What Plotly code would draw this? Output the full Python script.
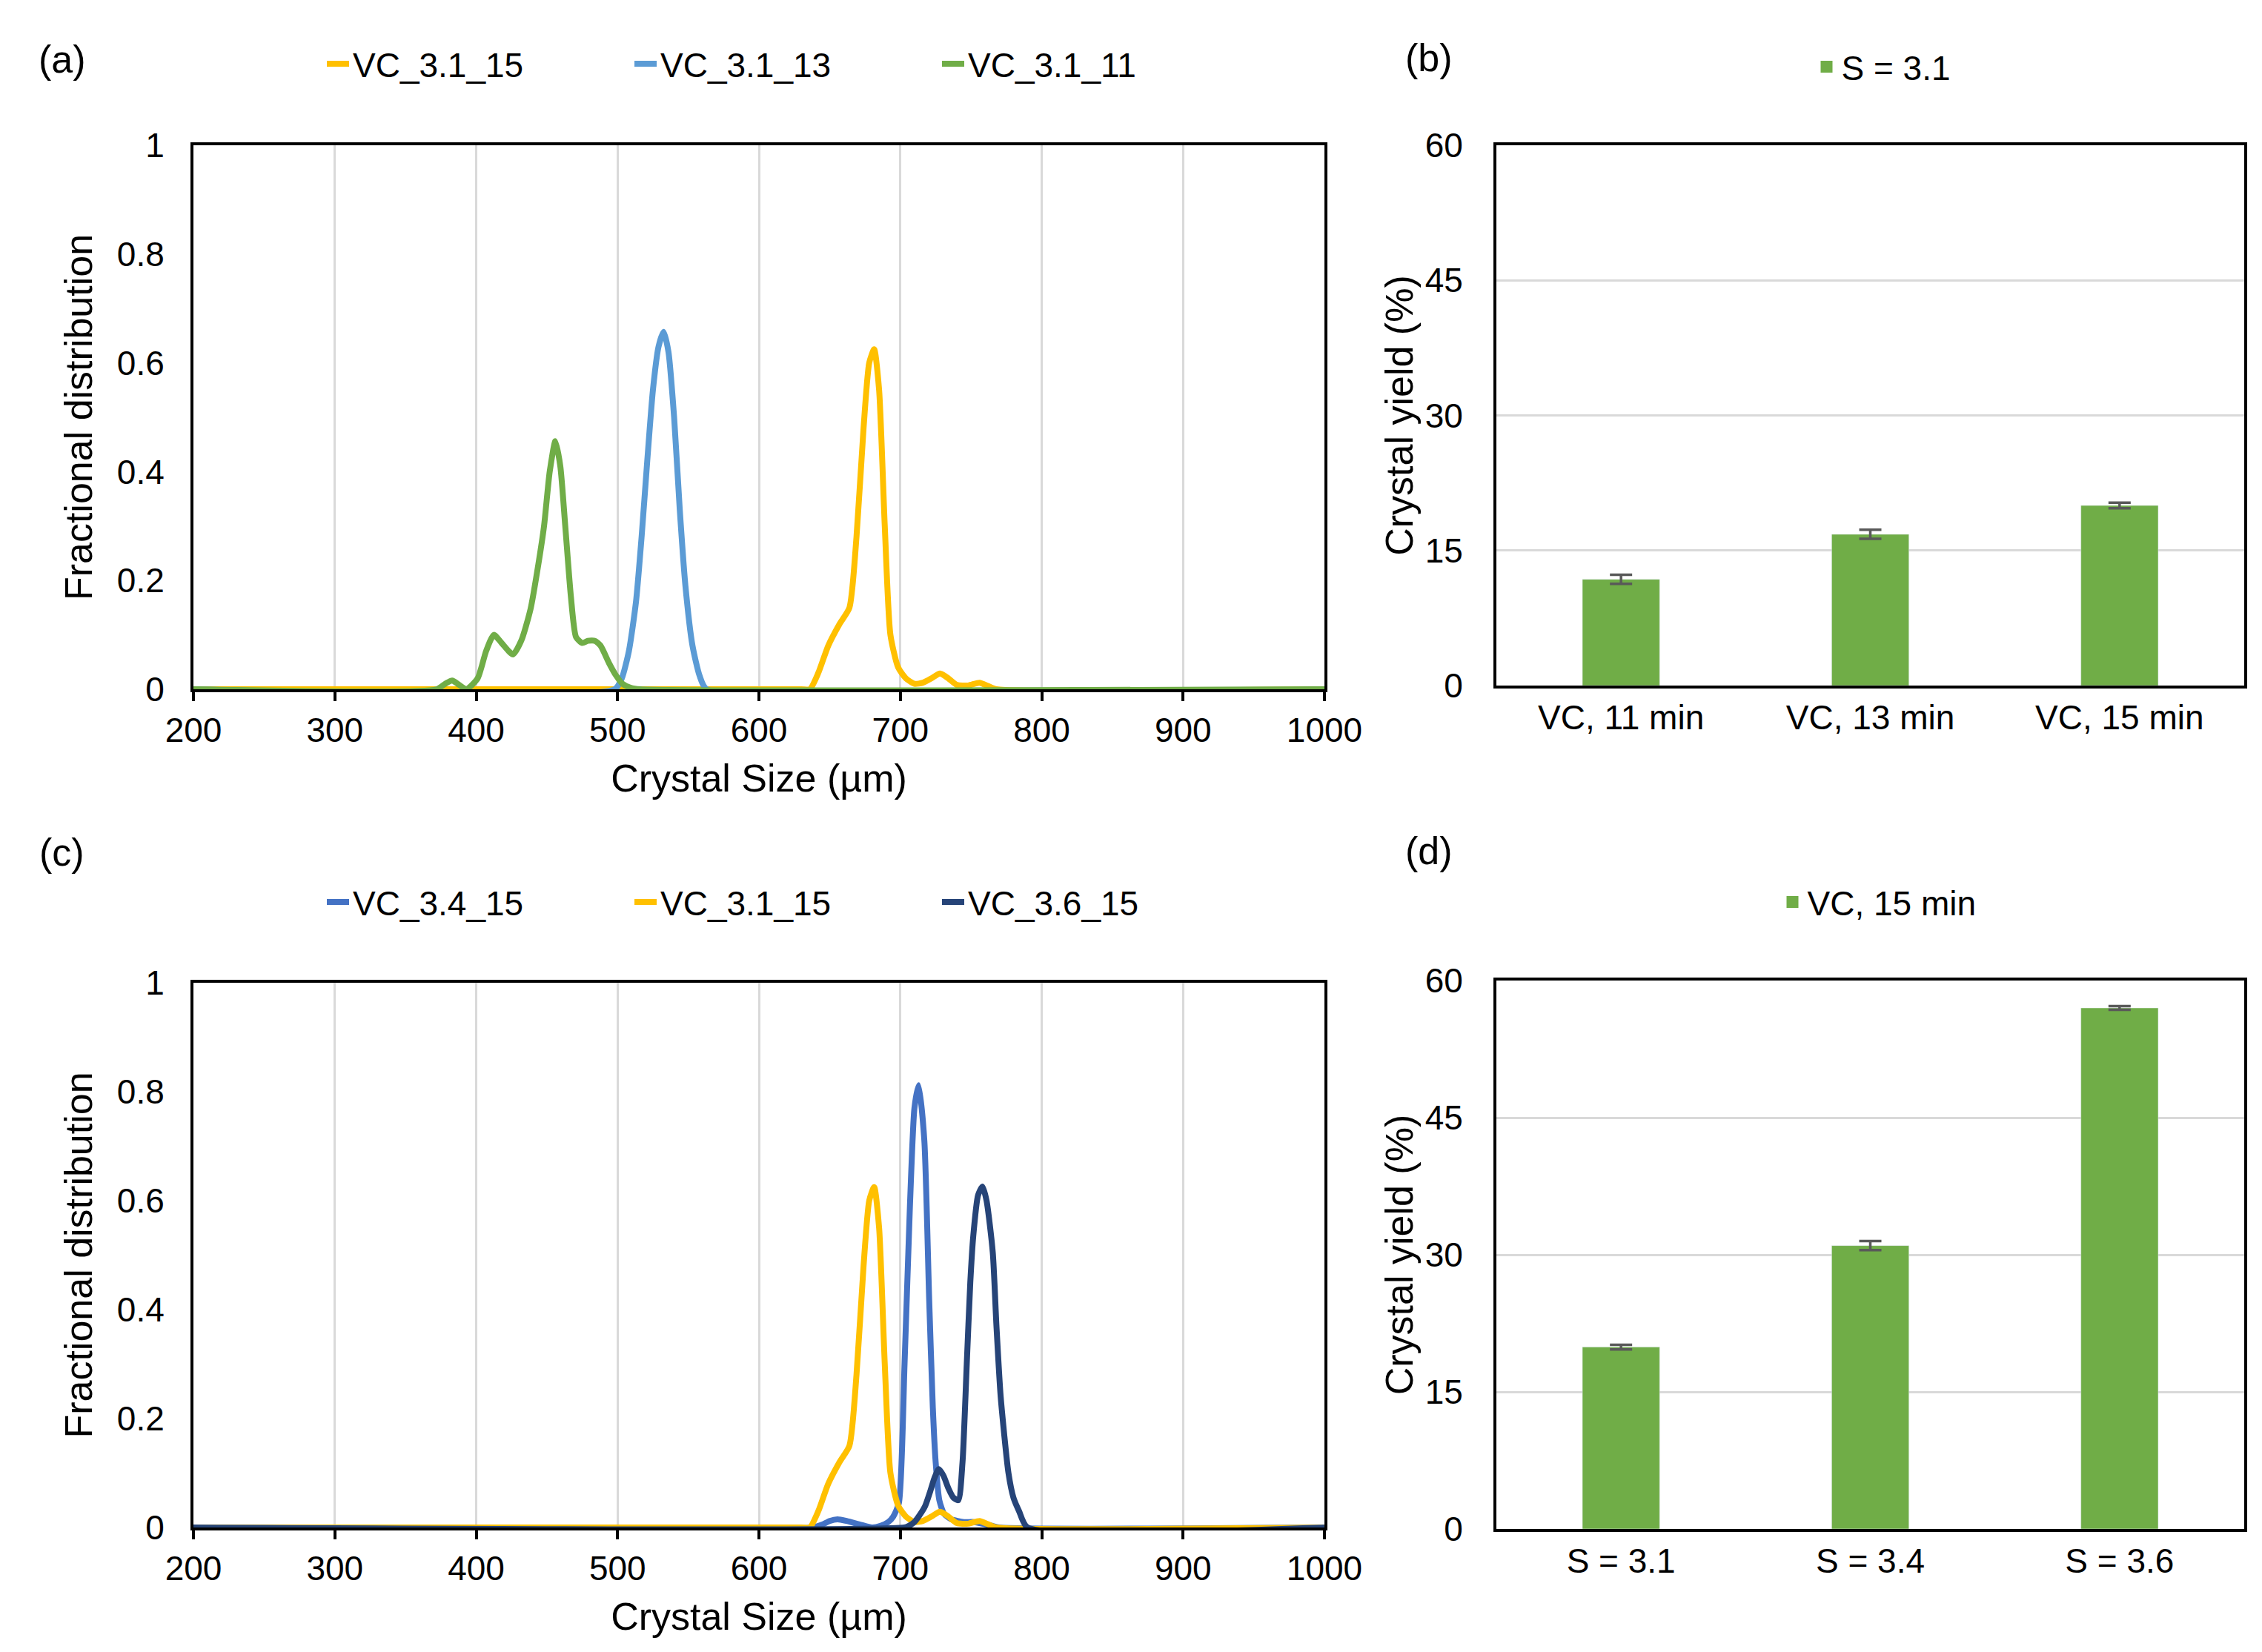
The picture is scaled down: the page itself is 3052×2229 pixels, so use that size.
import plotly.graph_objects as go

# --- data ---

# (a) crystal size distributions, S = 3.1, different residence times
size_31_15 = [200, 630, 636, 642, 649, 657, 664, 669, 674, 678, 681.5, 685, 689, 693, 698.5, 704, 710, 716, 722, 728, 734, 740, 748, 756, 762, 768, 1000]
frac_31_15 = [0, 0, 0, 0.03, 0.08, 0.12, 0.15, 0.28, 0.48, 0.6, 0.625, 0.55, 0.3, 0.1, 0.04, 0.02, 0.01, 0.012, 0.02, 0.029, 0.02, 0.008, 0.007, 0.012, 0.006, 0, 0]

size_31_13 = [200, 498, 503, 508, 513, 517, 521, 525, 529, 532.6, 536, 540, 544, 548, 553, 558, 563, 1000]
frac_31_13 = [0, 0, 0.02, 0.07, 0.16, 0.28, 0.42, 0.55, 0.63, 0.657, 0.62, 0.5, 0.33, 0.19, 0.08, 0.025, 0, 0]

size_31_11 = [200, 372, 378, 383, 388, 393, 401, 407, 412.5, 418, 426, 432, 438.5, 444, 448, 452, 456, 459.5, 463, 467, 470.6, 475, 479, 484, 488, 494, 499, 503.5, 509, 516, 1000]
frac_31_11 = [0, 0, 0.01, 0.016, 0.008, 0, 0.02, 0.07, 0.1, 0.085, 0.064, 0.09, 0.148, 0.23, 0.3, 0.4, 0.456, 0.41, 0.3, 0.17, 0.096, 0.085, 0.089, 0.089, 0.08, 0.048, 0.025, 0.01, 0.003, 0, 0]

# (c) crystal size distributions, 15 min, different supersaturation
size_34_15 = [200, 638, 644.5, 650, 655.6, 662, 672, 680, 686, 691.5, 695, 699, 703, 706.8, 710, 713, 717, 720.4, 723, 725, 727.6, 731, 736, 745, 752, 762, 770, 1000]
frac_34_15 = [0, 0, 0.005, 0.012, 0.015, 0.012, 0.005, 0, 0.003, 0.01, 0.02, 0.045, 0.3, 0.59, 0.77, 0.812, 0.71, 0.42, 0.22, 0.12, 0.05, 0.025, 0.015, 0.01, 0.01, 0.005, 0, 0]

size_36_15 = [200, 703, 706, 710, 713.5, 717.5, 721, 724, 727.2, 730.5, 734, 737.5, 741, 744, 747, 749.5, 751.6, 755, 758.1, 761, 765.4, 768, 771, 776.5, 780, 784, 790, 1000]
frac_36_15 = [0, 0, 0.003, 0.01, 0.022, 0.039, 0.065, 0.09, 0.107, 0.095, 0.072, 0.055, 0.05, 0.12, 0.3, 0.45, 0.535, 0.61, 0.626, 0.6, 0.505, 0.37, 0.24, 0.1, 0.055, 0.03, 0, 0]

# (b) crystal yield, S = 3.1
time_labels = ["VC, 11 min", "VC, 13 min", "VC, 15 min"]
yield_time = [11.8, 16.8, 20.0]
yield_time_err = [0.5, 0.5, 0.3]

# (d) crystal yield, 15 min
s_labels = ["S = 3.1", "S = 3.4", "S = 3.6"]
yield_s = [19.9, 31.0, 57.0]
yield_s_err = [0.25, 0.5, 0.2]

YELLOW = "#FFC000"
LIGHTBLUE = "#5B9BD5"
GREEN = "#70AD47"
BLUE = "#4472C4"
NAVY = "#264478"
FONT = "Liberation Sans, Arial, sans-serif"

W, H = 3052, 2229
LW = 8

fig = go.Figure()

# panel (a)
for xs, ys, name, col in [(size_31_15, frac_31_15, "VC_3.1_15", YELLOW),
                          (size_31_13, frac_31_13, "VC_3.1_13", LIGHTBLUE),
                          (size_31_11, frac_31_11, "VC_3.1_11", GREEN)]:
    fig.add_trace(go.Scatter(x=xs, y=ys, name=name, mode="lines",
                             line=dict(color=col, width=LW, shape="spline", smoothing=0.6),
                             xaxis="x", yaxis="y", legend="legend"))

# panel (b)
fig.add_trace(go.Bar(x=time_labels, y=yield_time, name="S = 3.1", marker_color=GREEN,
                     error_y=dict(type="data", array=yield_time_err, color="#595959", thickness=3.5, width=15),
                     width=0.31, xaxis="x2", yaxis="y2", showlegend=False))
fig.add_trace(go.Scatter(x=[None], y=[None], name="S = 3.1", mode="markers",
                         marker=dict(symbol="square", size=16, color=GREEN),
                         xaxis="x2", yaxis="y2", legend="legend2"))

# panel (c)
for xs, ys, name, col in [(size_34_15, frac_34_15, "VC_3.4_15", BLUE),
                          (size_31_15, frac_31_15, "VC_3.1_15", YELLOW),
                          (size_36_15, frac_36_15, "VC_3.6_15", NAVY)]:
    fig.add_trace(go.Scatter(x=xs, y=ys, name=name, mode="lines",
                             line=dict(color=col, width=LW, shape="spline", smoothing=0.6),
                             xaxis="x3", yaxis="y3", legend="legend3"))

# panel (d)
fig.add_trace(go.Bar(x=s_labels, y=yield_s, name="VC, 15 min", marker_color=GREEN,
                     error_y=dict(type="data", array=yield_s_err, color="#595959", thickness=3.5, width=15),
                     width=0.31, xaxis="x4", yaxis="y4", showlegend=False))
fig.add_trace(go.Scatter(x=[None], y=[None], name="VC, 15 min", mode="markers",
                         marker=dict(symbol="square", size=16, color=GREEN),
                         xaxis="x4", yaxis="y4", legend="legend4"))

tick_font = dict(family=FONT, size=46, color="black")
title_font = dict(family=FONT, size=52, color="black")

line_x = dict(range=[200, 1000], dtick=100, tick0=200, showgrid=True, gridcolor="#D9D9D9", gridwidth=3,
              showline=True, mirror=True, linecolor="black", linewidth=4, ticks="outside", ticklen=12,
              tickwidth=4, tickcolor="black", tickfont=tick_font, zeroline=False, automargin=False,
              title=dict(text="Crystal Size (µm)", font=title_font, standoff=22))
line_y = dict(range=[0, 1], dtick=0.2, showgrid=False, showline=True, mirror=True, linecolor="black",
              linewidth=4, ticks="", tickfont=tick_font, zeroline=False, automargin=False,
              ticklabelstandoff=26,
              title=dict(text="Fractional distribution", font=title_font, standoff=18))
bar_x = dict(showline=True, mirror=True, linecolor="black", linewidth=4, ticks="", tickfont=tick_font,
             showgrid=False, automargin=False)
bar_y = dict(range=[0, 60], dtick=15, showgrid=True, gridcolor="#D9D9D9", gridwidth=3, showline=True,
             mirror=True, linecolor="black", linewidth=4, ticks="", tickfont=tick_font, zeroline=False,
             automargin=False, ticklabelstandoff=32,
             title=dict(text="Crystal yield (%)", font=title_font, standoff=0))

dom_left = [253 / W, 1779 / W]
dom_right = [2011 / W, 3020 / W]

leg_common = dict(orientation="h", font=dict(family=FONT, size=46, color="black"),
                  bgcolor="rgba(0,0,0,0)", xref="paper", yref="paper", yanchor="middle")

fig.update_layout(
    width=W, height=H, autosize=False,
    margin=dict(l=0, r=0, t=0, b=0),
    paper_bgcolor="white", plot_bgcolor="white",
    font=dict(family=FONT, color="black"),
    xaxis=dict(line_x, domain=dom_left, anchor="y"),
    yaxis=dict(line_y, domain=[1 - 922 / H, 1 - 188 / H], anchor="x"),
    xaxis2=dict(bar_x, domain=dom_right, anchor="y2"),
    yaxis2=dict(bar_y, domain=[1 - 917 / H, 1 - 188 / H], anchor="x2"),
    xaxis3=dict(line_x, domain=dom_left, anchor="y3"),
    yaxis3=dict(line_y, domain=[1 - 2053 / H, 1 - 1318 / H], anchor="x3"),
    xaxis4=dict(bar_x, domain=dom_right, anchor="y4"),
    yaxis4=dict(bar_y, domain=[1 - 2055 / H, 1 - 1315 / H], anchor="x4"),
    legend=dict(leg_common, x=428 / W, y=1 - 78 / H, xanchor="left", entrywidth=370),
    legend2=dict(leg_common, x=2533 / W, y=1 - 82 / H, xanchor="center"),
    legend3=dict(leg_common, x=428 / W, y=1 - 1209 / H, xanchor="left", entrywidth=370),
    legend4=dict(leg_common, x=2527 / W, y=1 - 1209 / H, xanchor="center"),
    showlegend=True,
)

# panel letters
for lab, px_, py_ in [("(a)", 76, 72), ("(b)", 1920, 70), ("(c)", 75, 1142), ("(d)", 1920, 1140)]:
    fig.add_annotation(text=lab, x=px_ / W, y=1 - py_ / H, xref="paper", yref="paper",
                       showarrow=False, xanchor="center", yanchor="middle",
                       font=dict(family=FONT, size=52, color="black"))

fig.write_html("out.html")
